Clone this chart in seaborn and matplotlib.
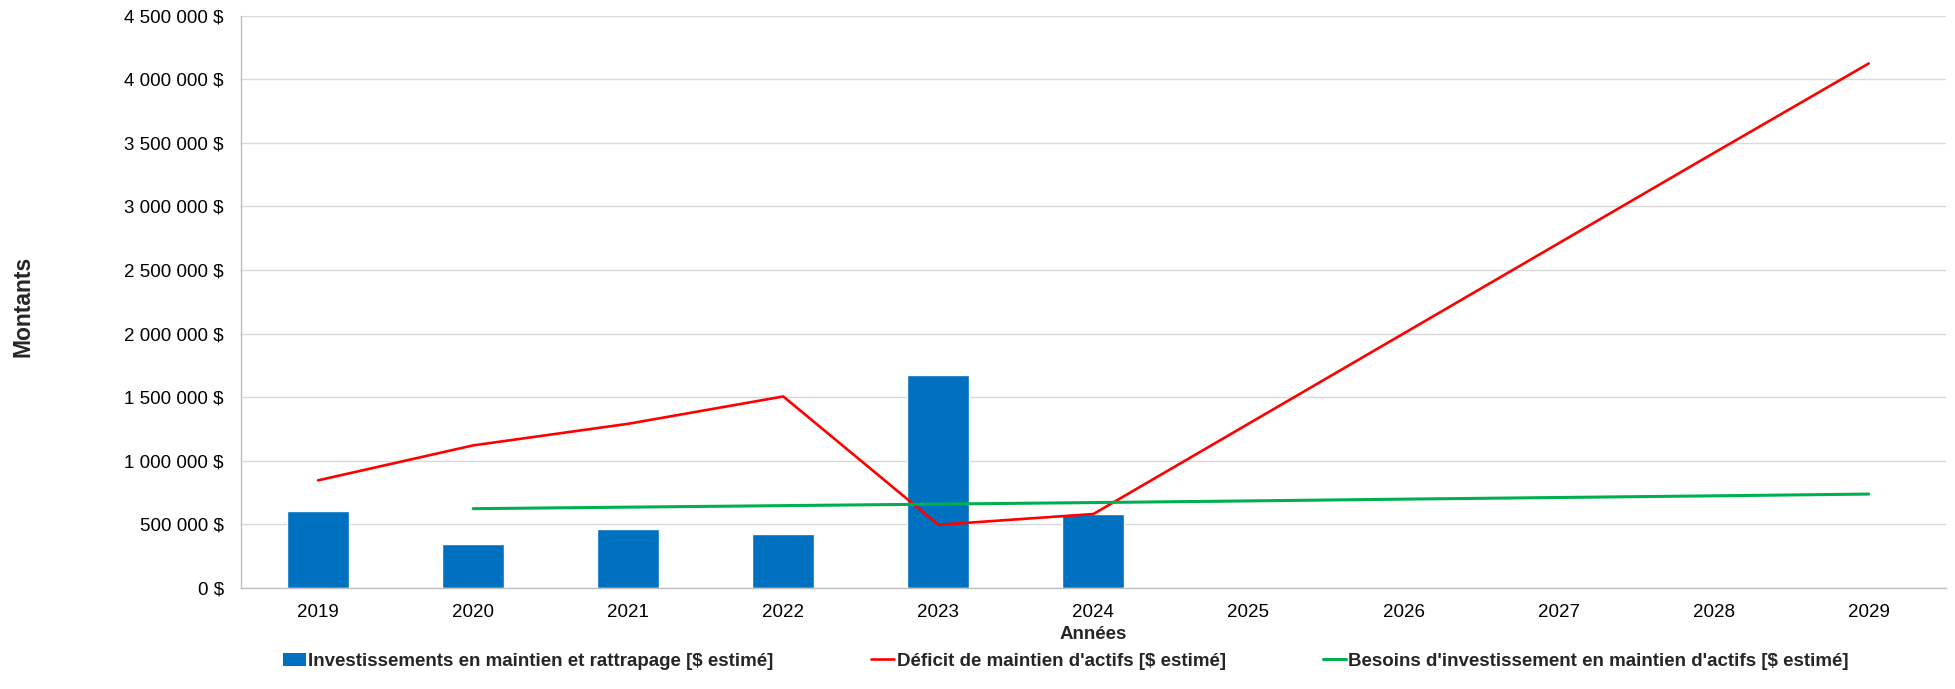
import matplotlib
matplotlib.use("Agg")
import matplotlib.pyplot as plt
import matplotlib.ticker as mticker
from matplotlib.patches import Patch
from matplotlib.lines import Line2D
import seaborn as sns
import pandas as pd

years = ["2019", "2020", "2021", "2022", "2023", "2024", "2025", "2026", "2027", "2028", "2029"]
bar_years = ["2019", "2020", "2021", "2022", "2023", "2024"]
investissements = [600000, 345000, 462000, 422000, 1670000, 580000]
deficit = [845000, 1120000, 1290000, 1505000, 495000, 580000, 1290000, 2000000, 2710000, 3420000, 4125000]
besoins_years = ["2020", "2021", "2022", "2023", "2024", "2025", "2026", "2027", "2028", "2029"]
besoins = [622000, 634000, 646000, 658000, 670000, 683000, 697000, 710000, 723000, 737000]

lab_bar = "Investissements en maintien et rattrapage [$ estimé]"
lab_red = "Déficit de maintien d'actifs [$ estimé]"
lab_green = "Besoins d'investissement en maintien d'actifs [$ estimé]"

sns.set_style("white")
plt.rcParams['font.family'] = ['Liberation Sans', 'DejaVu Sans']

fig = plt.figure(figsize=(19.56, 6.89), dpi=100)
ax = fig.add_axes([0.123, 0.147, 0.872, 0.830])

df_bars = pd.DataFrame({"year": bar_years, "val": investissements})
sns.barplot(data=df_bars, x="year", y="val", order=years, color="#0070C0",
            width=0.4, saturation=1, ax=ax, zorder=2)

pos = {y: i for i, y in enumerate(years)}
df_red = pd.DataFrame({"x": [pos[y] for y in years], "val": deficit})
df_green = pd.DataFrame({"x": [pos[y] for y in besoins_years], "val": besoins})
sns.lineplot(data=df_red, x="x", y="val", color="#FF0000", linewidth=1.9, ax=ax, zorder=3)
sns.lineplot(data=df_green, x="x", y="val", color="#00B050", linewidth=2.2, ax=ax, zorder=3)

ax.set_xlim(-0.5, len(years) - 0.5)
ax.set_ylim(0, 4500000)
ax.yaxis.set_major_locator(mticker.MultipleLocator(500000))
ax.yaxis.set_major_formatter(mticker.FuncFormatter(lambda v, p: f"{v:,.0f}".replace(",", " ") + " $"))
ax.set_xticks(range(len(years)))
ax.set_xticklabels(years)
ax.tick_params(axis="both", labelsize=13.5, length=0, colors="#000000")
ax.tick_params(axis="x", pad=12)
ax.tick_params(axis="y", pad=12)
ax.grid(axis="y", color="#D9D9D9", linewidth=1.0, zorder=0)
ax.set_axisbelow(True)
for s in ["top", "right"]:
    ax.spines[s].set_visible(False)
for s in ["left", "bottom"]:
    ax.spines[s].set_color("#BFBFBF")
    ax.spines[s].set_linewidth(1.0)

ax.set_xlabel("Années", fontsize=13.5, fontweight="bold", labelpad=3)
ax.set_ylabel("")
fig.text(0.012, 0.555, "Montants", rotation=90, fontsize=16.5, fontweight="bold",
         va="center", ha="center")

handles = [Patch(facecolor="#0070C0", edgecolor="none"),
           Line2D([0], [0], color="#FF0000", linewidth=1.9),
           Line2D([0], [0], color="#00B050", linewidth=2.2)]
fig.legend(handles, [lab_bar, lab_red, lab_green], loc="center", ncol=3,
           bbox_to_anchor=(0.545, 0.04), frameon=False,
           prop={"size": 13.5, "weight": "bold"}, columnspacing=5.2,
           handlelength=1.2, handletextpad=0.15)

fig.savefig("out.png", dpi=100)
